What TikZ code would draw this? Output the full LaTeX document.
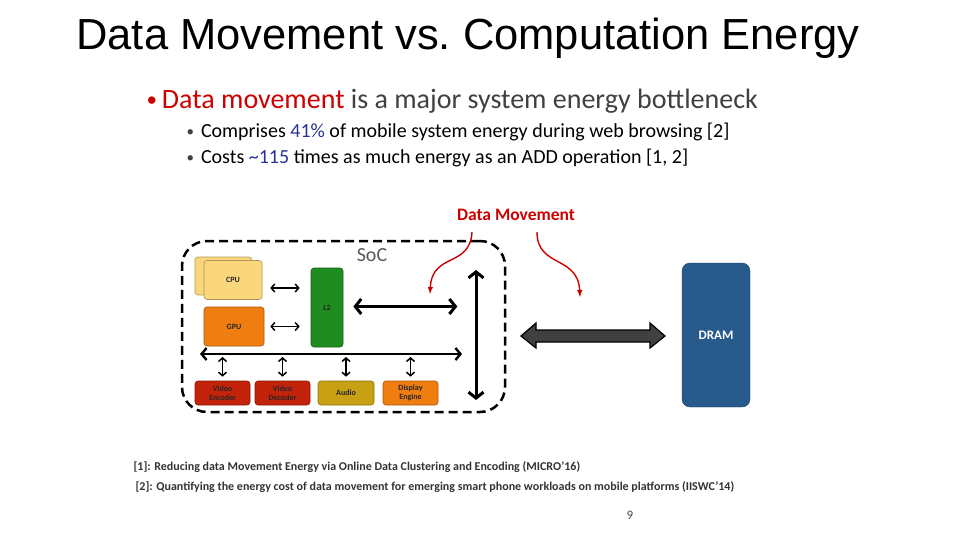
\documentclass[tikz,border=0pt]{standalone}
\usepackage{fontspec}
\setmainfont{Carlito}
\newfontfamily\titlefont{Liberation Sans}
\usetikzlibrary{arrows, arrows.meta, calc, positioning}
\definecolor{myred}{RGB}{204,0,0}
\definecolor{myblue}{RGB}{40,50,150}
\definecolor{textgray}{RGB}{64,64,64}
\definecolor{cpuyellow}{RGB}{250,215,125}
\definecolor{gpuorange}{RGB}{240,125,15}
\definecolor{ltwogreen}{RGB}{30,140,30}
\definecolor{videored}{RGB}{195,35,10}
\definecolor{audiogold}{RGB}{200,160,20}
\definecolor{dramblue}{RGB}{40,90,140}
\definecolor{linkgray}{RGB}{64,64,64}
\newcommand{\smallbul}{\raisebox{0.1ex}{\scalebox{0.75}{\textbullet}}}

\begin{document}
\begin{tikzpicture}[x=1pt,y=-1pt,
  block/.style={draw=#1!70!black, fill=#1, rounded corners=3pt, line width=0.6pt,
    inner sep=0pt, align=center, text=black!85,
    font=\bfseries\fontsize{8}{8.5}\selectfont},
  smallarrow/.style={{Straight Barb[length=3.5pt,width=8pt]}-{Straight Barb[length=3.5pt,width=8pt]}, line width=1.5pt},
  busarrow/.style={{Straight Barb[length=5pt,width=12pt]}-{Straight Barb[length=5pt,width=12pt]}, line width=2.4pt},
  mainarrow/.style={{Straight Barb[length=6pt,width=15pt]}-{Straight Barb[length=6pt,width=15pt]}, line width=3pt},
  movearrow/.style={-latex, myred, line width=1.4pt}]
\useasboundingbox (0,0) rectangle (960,540);

% title and bullets
\node[font=\titlefont\fontsize{43.5}{48}\selectfont] (title) at (468,38)
  {Data Movement vs.\ Computation Energy};
\node[anchor=west, text=textgray, font=\fontsize{28}{32}\selectfont] (pt1) at (143,101)
  {\textcolor{myred}{\smallbul\hspace{5pt}Data movement} is a major system energy bottleneck};
\node[anchor=west, font=\fontsize{20}{23}\selectfont] (pt2) at (183,132)
  {\textcolor{textgray}{\smallbul}\hspace{7pt}Comprises \textcolor{myblue}{41\%} of mobile system energy during web browsing [2]};
\node[anchor=west, font=\fontsize{20}{23}\selectfont] (pt3) at (183,158)
  {\textcolor{textgray}{\smallbul}\hspace{7pt}Costs \textcolor{myblue}{\textasciitilde115} times as much energy as an ADD operation [1, 2]};

% SoC
\node[draw, line width=2.5pt, dash pattern=on 9pt off 5pt, rounded corners=25pt,
  minimum width=323, minimum height=171] (soc) at (343.5,326.5) {};
\node[text=black!65, font=\fontsize{20}{22}\selectfont] (soclabel) at (372,255) {SoC};

\node[block=cpuyellow, minimum width=57, minimum height=38] (cpuback) at (223.5,276) {};
\node[block=cpuyellow, minimum width=58, minimum height=39] (cpu) at (233,280) {CPU};
\node[block=gpuorange, minimum width=60, minimum height=39] (gpu) at (234,326.5) {GPU};
\node[block=ltwogreen, minimum width=32, minimum height=79] (ltwo) at (327,307.5) {L2};
\node[block=videored, minimum width=55, minimum height=24] (venc) at (222.5,393) {Video\\Encoder};
\node[block=videored, minimum width=55, minimum height=24] (vdec) at (282.5,393) {Video\\Decoder};
\node[block=audiogold, minimum width=56, minimum height=24] (audio) at (346,393) {Audio};
\node[block=gpuorange, minimum width=55, minimum height=24] (disp) at (410.5,393) {Display\\Engine};

\coordinate (busL) at (200,354);
\coordinate (busR) at (462,354);
\coordinate (vtop) at (476,270);
\coordinate (vbot) at (476,400);

\draw[smallarrow] ($(cpu.east)+(8,8)$) -- ($(ltwo.west |- cpu.east)+(-11,8)$);
\draw[smallarrow] ($(gpu.east)+(6,0)$) -- ($(ltwo.west |- gpu.east)+(-11,0)$);
\draw[mainarrow] ($(ltwo.east)+(10,-1)$) -- ++(104,0);
\draw[busarrow] (busL) -- (busR);
\draw[mainarrow] (vtop) -- (vbot);
\foreach \b in {venc,vdec,audio,disp}
  \draw[smallarrow] (\b.north |- busL) ++(0,3) -- ([yshift=4pt]\b.north);

% DRAM
\node[draw=dramblue!70!black, fill=dramblue, rounded corners=8pt, minimum width=68,
  minimum height=144, text=white, font=\bfseries\fontsize{13}{14}\selectfont] (dram) at (716,335) {DRAM};

\draw[fill=linkgray, line width=1.2pt, line join=miter]
  (521,336) -- (536,323) -- (536,330) -- (650,330) -- (650,323) -- (665,336)
  -- (650,348) -- (650,342) -- (536,342) -- (536,348) -- cycle;

% data movement
\node[text=myred, font=\bfseries\fontsize{17.5}{19}\selectfont] (dm) at (516,215) {Data Movement};
\draw[movearrow] (472,232) .. controls (470,268) and (432,252) .. (430,294);
\draw[movearrow] (537,232) .. controls (537,268) and (578,255) .. (580,297);

% references
\node[anchor=west, text=black!80, font=\bfseries\fontsize{12}{13}\selectfont] (ref1) at (130,467)
  {[1]: Reducing data Movement Energy via Online Data Clustering and Encoding (MICRO'16)};
\node[anchor=west, text=black!80, font=\bfseries\fontsize{12}{13}\selectfont] (ref2) at (132,487)
  {[2]: Quantifying the energy cost of data movement for emerging smart phone workloads on mobile platforms (IISWC'14)};
\node[text=black!70, font=\fontsize{13}{14}\selectfont] (pagenum) at (630,515) {9};
\end{tikzpicture}
\end{document}
